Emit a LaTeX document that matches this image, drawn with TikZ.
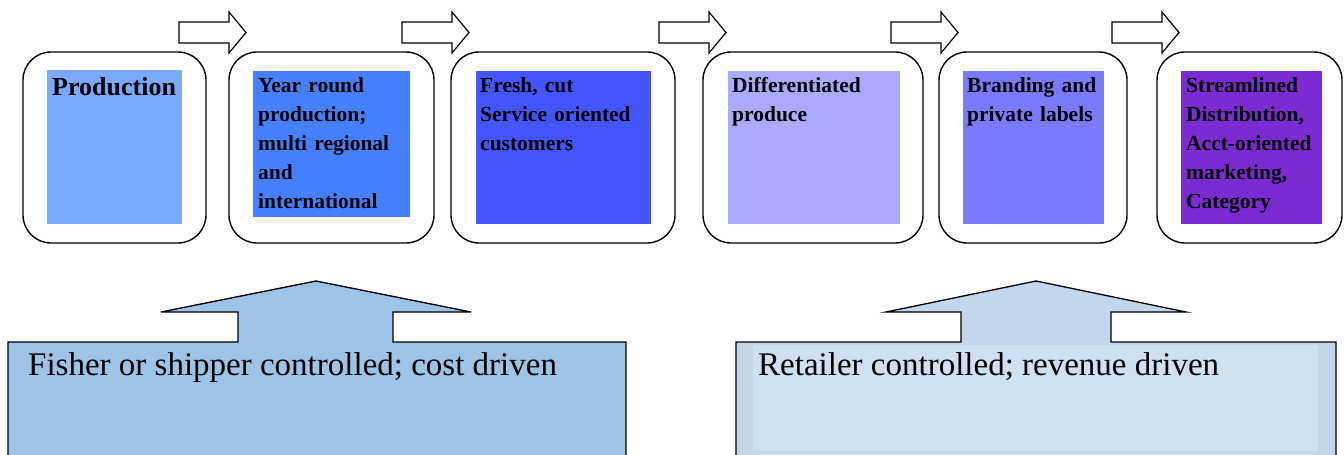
\documentclass[tikz,border=0pt]{standalone}
\usepackage{fontspec}
\setmainfont{Liberation Serif}

\definecolor{prodblue}{RGB}{122,170,255}
\definecolor{yearblue}{RGB}{68,128,255}
\definecolor{freshblue}{RGB}{68,85,255}
\definecolor{diffblue}{RGB}{170,170,255}
\definecolor{brandblue}{RGB}{122,122,255}
\definecolor{streampurple}{RGB}{122,43,210}
\definecolor{costblue}{RGB}{157,195,230}
\definecolor{revblue}{RGB}{195,214,235}
\definecolor{revinner}{RGB}{207,224,242}

\begin{document}
\begin{tikzpicture}[x=1pt,y=-1pt]
\tikzset{stage/.style={rectangle, rounded corners=28pt, draw, line width=1.4pt, fill=white, inner sep=0pt}}
\tikzset{colorbox/.style={rectangle, inner sep=0pt, anchor=north west}}
\tikzset{stagetext/.style={anchor=base west, inner sep=0pt, text width=200pt, align=left, font=\fontsize{21.5}{29}\selectfont\bfseries}}
\tikzset{flowarrow/.style={draw, line width=1.2pt, fill=white, line join=miter}}
\tikzset{bigarrow/.style={draw, line width=1.3pt}}
\tikzset{bottomtext/.style={anchor=base west, inner sep=0pt, font=\fontsize{33}{39}\selectfont}}
\clip (0,0) rectangle (1344,455);

% outer stage boxes
\node[stage, minimum width=183pt, minimum height=191pt] (prodstage) at (114.5,147.5) {};
\node[stage, minimum width=205pt, minimum height=191pt] (yearstage) at (331.5,147.5) {};
\node[stage, minimum width=224pt, minimum height=191pt] (freshstage) at (563,147.5) {};
\node[stage, minimum width=220pt, minimum height=191pt] (diffstage) at (813,147.5) {};
\node[stage, minimum width=188pt, minimum height=191pt] (brandstage) at (1033,147.5) {};
\node[stage, minimum width=185pt, minimum height=191pt] (streamstage) at (1249.5,147.5) {};

% coloured inner boxes
\node[colorbox, fill=prodblue, minimum width=135pt, minimum height=154pt] (prodbox) at (47,70) {};
\node[colorbox, fill=yearblue, minimum width=157pt, minimum height=146pt] (yearbox) at (253,71) {};
\node[colorbox, fill=freshblue, minimum width=175pt, minimum height=153pt] (freshbox) at (476,71) {};
\node[colorbox, fill=diffblue, minimum width=172pt, minimum height=153pt] (diffbox) at (728,71) {};
\node[colorbox, fill=brandblue, minimum width=141pt, minimum height=153pt] (brandbox) at (963,71) {};
\node[colorbox, fill=streampurple, minimum width=141pt, minimum height=153pt] (streambox) at (1181,71) {};

% texts
\node[anchor=base west, inner sep=0pt, font=\fontsize{26}{30}\selectfont\bfseries] (prodtext) at (52,95) {Production};
\node[stagetext] (yeartext) at (258,92) {Year round\\production;\\multi regional\\and\\international};
\node[stagetext] (freshtext) at (480,92) {Fresh, cut\\Service oriented\\customers};
\node[stagetext] (difftext) at (732,92) {Differentiated\\produce};
\node[stagetext] (brandtext) at (967,92) {Branding and\\private labels};
\node[stagetext] (streamtext) at (1186,92) {Streamlined\\Distribution,\\Acct-oriented\\marketing,\\Category};

% block arrows between the stages
\foreach \x in {179,402,659,891,1112}
  \draw[flowarrow] (\x,22) -- (\x+50,22) -- (\x+50,12) -- (\x+67,32.5) -- (\x+50,53) -- (\x+50,43) -- (\x,43) -- cycle;

% bottom callouts
\draw[bigarrow, fill=costblue] (8,470) -- (8,342) -- (238,342) -- (238,312) -- (161,312) -- (316,281)
  -- (471,312) -- (393,312) -- (393,342) -- (626,342) -- (626,470);
\draw[bigarrow, fill=revblue] (736,470) -- (736,342) -- (961,342) -- (961,312) -- (886,312) -- (1036,281)
  -- (1186,312) -- (1111,312) -- (1111,342) -- (1336,342) -- (1336,470);
\fill[revinner] (753,345) rectangle (1318,451);

\node[bottomtext] (fishertext) at (28,375) {Fisher or shipper controlled; cost driven};
\node[bottomtext] (retailtext) at (758,375) {Retailer controlled; revenue driven};
\end{tikzpicture}
\end{document}
